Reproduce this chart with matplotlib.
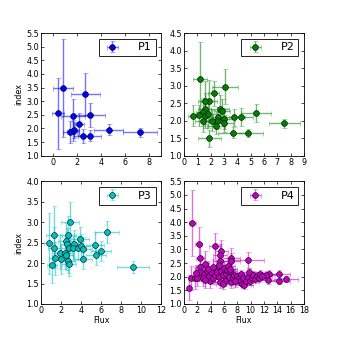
import numpy as np
import matplotlib
matplotlib.use("Agg")
import matplotlib.pyplot as plt

# ---- data ----
p1_flux = [0.44, 0.82, 1.64, 2.68, 3.04, 2.19, 1.64, 1.42, 1.75, 2.47, 3.04, 4.63, 7.25]
p1_index = [2.55, 3.48, 2.44, 3.25, 2.49, 2.15, 1.92, 1.86, 1.95, 1.71, 1.73, 1.95, 1.86]
p1_ferr = [0.5, 0.85, 1.0, 1.2, 1.25, 0.4, 0.45, 0.6, 0.4, 0.7, 0.95, 1.2, 1.4]
p1_ierr = [1.3, 1.8, 0.63, 0.8, 0.45, 0.4, 0.37, 0.4, 0.3, 0.25, 0.2, 0.2, 0.17]

p2_flux = [1.2, 3.08, 2.23, 1.85, 1.55, 1.55, 1.4, 1.1, 1.6, 1.8, 2.7, 2.86, 2.56, 2.46,
           2.4, 3.0, 3.0, 3.76, 4.29, 5.41, 7.52, 3.66, 4.84, 1.9, 1.4, 2.08, 0.7]
p2_index = [3.18, 2.97, 2.78, 2.56, 2.57, 2.34, 2.24, 2.15, 2.13, 2.2, 2.32, 2.27, 2.1, 2.0,
            1.86, 2.05, 1.92, 2.09, 2.1, 2.21, 1.92, 1.66, 1.64, 1.49, 1.98, 2.0, 2.14]
p2_ferr = [0.5, 1.0, 0.4, 0.6, 0.5, 0.5, 0.5, 0.5, 0.6, 0.6, 0.7, 0.6, 0.6, 0.6,
           0.7, 0.8, 0.7, 0.8, 0.9, 1.15, 1.15, 1.1, 1.1, 0.85, 0.6, 0.7, 0.4]
p2_ierr = [1.05, 0.5, 0.35, 0.6, 0.55, 0.45, 0.4, 0.3, 0.35, 0.4, 0.4, 0.35, 0.3, 0.25,
           0.25, 0.3, 0.25, 0.25, 0.25, 0.25, 0.12, 0.15, 0.12, 0.25, 0.3, 0.3, 0.3]

p3_flux = [0.8, 1.3, 1.07, 1.24, 1.34, 1.87, 1.97, 2.4, 2.47, 2.47, 2.68, 2.57, 2.84, 2.74,
           2.68, 2.74, 3.28, 3.14, 3.65, 3.88, 4.0, 4.15, 4.18, 5.42, 5.52, 5.95, 6.59, 9.16]
p3_index = [2.48, 2.68, 1.96, 2.38, 2.12, 2.25, 2.09, 2.25, 2.19, 2.54, 2.7, 2.46, 3.0, 2.38,
            2.05, 1.99, 2.46, 2.36, 2.37, 2.59, 2.41, 2.35, 2.1, 2.45, 2.21, 2.29, 2.76, 1.91]
p3_ferr = [0.5, 0.8, 0.5, 0.6, 0.6, 0.6, 0.6, 0.7, 0.7, 0.8, 0.8, 0.7, 0.9, 0.8,
           0.7, 0.7, 0.8, 0.8, 0.8, 0.9, 0.9, 0.9, 0.9, 0.9, 1.0, 1.0, 1.2, 1.6]
p3_ierr = [0.75, 0.72, 0.45, 0.5, 0.4, 0.4, 0.35, 0.4, 0.35, 0.45, 0.45, 0.4, 0.5, 0.35,
           0.3, 0.3, 0.35, 0.3, 0.3, 0.3, 0.3, 0.3, 0.25, 0.3, 0.25, 0.25, 0.27, 0.15]

p4_flux = [1.26, 0.75, 1.0, 1.6, 2.2, 2.4, 3.1, 2.4, 4.72, 5.6, 5.4, 5.4, 7.1, 7.1, 9.65,
           14.27, 15.28, 14.27, 12.76, 12.56, 12.26,
           2.4, 3.0, 2.8, 3.4, 3.7, 3.9, 4.1, 4.3, 4.6, 4.8, 5.0, 5.2, 5.4, 5.6, 5.8, 6.0,
           6.1, 6.3, 6.5, 6.7, 6.9, 7.1, 7.3, 7.5, 7.8, 8.0, 8.2, 8.4, 8.6, 8.7, 8.9, 9.0,
           9.3, 9.6, 9.8, 9.9, 10.2, 10.4, 10.7, 11.0, 11.2, 11.4, 11.7, 3.2, 3.6, 4.4, 5.3,
           6.6, 6.9, 5.8, 7.6, 2.0, 1.8]
p4_index = [3.97, 1.6, 1.95, 1.95, 3.21, 2.7, 2.48, 2.36, 3.14, 2.95, 2.79, 2.58, 2.7, 2.58, 2.62,
            2.09, 1.92, 1.84, 2.09, 1.89, 2.05,
            2.16, 2.09, 1.95, 2.22, 2.03, 1.85, 2.16, 1.97, 2.07, 2.31, 2.16, 2.0, 1.79, 2.22, 2.07, 2.31,
            1.85, 2.09, 2.24, 2.0, 2.22, 1.79, 1.95, 2.07, 1.91, 2.03, 1.97, 1.85, 2.09, 1.73, 1.97, 1.71,
            1.83, 2.0, 2.17, 1.85, 1.97, 2.07, 1.91, 2.03, 1.95, 2.09, 2.03, 1.88, 2.28, 2.36, 2.44,
            2.4, 2.28, 1.75, 1.83, 1.97, 2.14]
p4_ferr = [0.5, 0.3, 0.4, 0.5, 0.5, 0.6, 0.7, 0.6, 0.9, 1.0, 1.0, 1.0, 1.3, 1.3, 2.3,
           1.6, 1.8, 1.6, 1.5, 1.5, 1.4,
           0.6, 0.6, 0.6, 0.7, 0.7, 0.7, 0.8, 0.8, 0.8, 0.9, 0.9, 0.9, 0.9, 1.0, 1.0, 1.0,
           1.0, 1.0, 1.1, 1.1, 1.1, 1.1, 1.2, 1.2, 1.2, 1.2, 1.2, 1.3, 1.3, 1.3, 1.3, 1.3,
           1.4, 1.4, 1.4, 1.4, 1.4, 1.4, 1.5, 1.5, 1.5, 1.5, 1.5, 0.7, 0.7, 0.8, 0.9,
           1.1, 1.1, 1.0, 1.2, 0.5, 0.5]
p4_ierr = [1.2, 0.45, 0.45, 0.4, 0.6, 0.5, 0.45, 0.4, 0.45, 0.4, 0.4, 0.35, 0.35, 0.3, 0.3,
           0.15, 0.12, 0.12, 0.15, 0.15, 0.15,
           0.3, 0.3, 0.3, 0.3, 0.25, 0.25, 0.25, 0.25, 0.25, 0.3, 0.25, 0.2, 0.2, 0.25, 0.2, 0.25,
           0.2, 0.2, 0.2, 0.2, 0.2, 0.2, 0.2, 0.2, 0.15, 0.15, 0.15, 0.15, 0.15, 0.15, 0.15, 0.15,
           0.15, 0.15, 0.15, 0.15, 0.15, 0.15, 0.15, 0.15, 0.15, 0.15, 0.15, 0.3, 0.3, 0.3, 0.3,
           0.3, 0.25, 0.2, 0.2, 0.3, 0.3]

panels = [
    ("P1", p1_flux, p1_index, p1_ferr, p1_ierr, "#0000ff", (-1, 9), np.arange(0, 9, 2), (1.0, 5.5), np.arange(1.0, 5.51, 0.5)),
    ("P2", p2_flux, p2_index, p2_ferr, p2_ierr, "#007f00", (0, 9), np.arange(0, 10, 1), (1.0, 4.5), np.arange(1.0, 4.51, 0.5)),
    ("P3", p3_flux, p3_index, p3_ferr, p3_ierr, "#00bfbf", (0, 12), np.arange(0, 13, 2), (1.0, 4.0), np.arange(1.0, 4.01, 0.5)),
    ("P4", p4_flux, p4_index, p4_ferr, p4_ierr, "#bf00bf", (0, 18), np.arange(0, 19, 2), (1.0, 5.5), np.arange(1.0, 5.51, 0.5)),
]

fs = 5.8
fig, axes = plt.subplots(2, 2, figsize=(3.37, 3.37), dpi=100)
fig.subplots_adjust(left=0.122, right=0.902, top=0.902, bottom=0.098, wspace=0.19, hspace=0.21)

for ax, (name, fx, ix, fe, ie, col, xl, xt, yl, yt) in zip(axes.flat, panels):
    ax.errorbar(fx, ix, xerr=fe, yerr=ie, fmt="o", color=col, ecolor=col, elinewidth=1.0,
                capsize=1.8, capthick=1.0, ms=4.2, mec="black", mew=0.4,
                label=name)
    # lighten the error bars only
    for c in ax.containers:
        for art in c.lines[1] + c.lines[2]:
            art.set_alpha(0.55)
    ax.set_xlim(xl)
    ax.set_ylim(yl)
    ax.set_xticks(xt)
    ax.set_yticks(yt)
    ax.set_yticklabels(["%.1f" % v for v in yt])
    ax.tick_params(direction="in", top=True, right=True, labelsize=fs, length=2.5, width=0.5, pad=1.5)
    for s in ax.spines.values():
        s.set_linewidth(0.6)
    leg = ax.legend(loc="upper right", fontsize=8, fancybox=False, framealpha=1,
                    borderpad=0.35, handlelength=1.8, handletextpad=1.4, borderaxespad=0.5)
    leg.get_frame().set_edgecolor("black")
    leg.get_frame().set_linewidth(0.6)

axes[0, 0].set_ylabel("index", fontsize=fs, labelpad=2)
axes[1, 0].set_ylabel("index", fontsize=fs, labelpad=2)
axes[1, 0].set_xlabel("Flux", fontsize=fs, labelpad=1)
axes[1, 1].set_xlabel("Flux", fontsize=fs, labelpad=1)

fig.savefig("out.png", dpi=100)
